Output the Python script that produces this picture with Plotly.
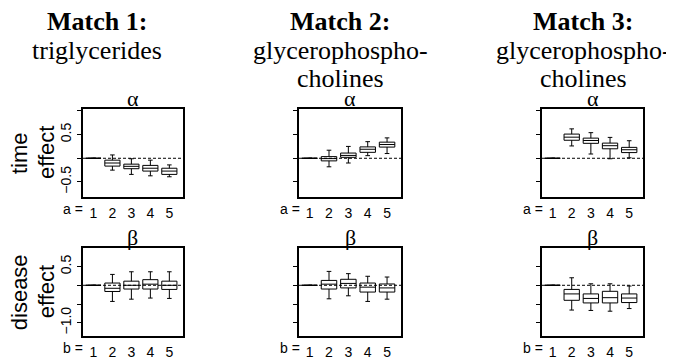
import plotly.graph_objects as go

categories = [1, 2, 3, 4, 5]
match_titles = ["Match 1:", "Match 2:", "Match 3:"]
match_names = [["triglycerides"], ["glycerophospho-", "cholines"], ["glycerophospho-", "cholines"]]
row_symbols = ["α", "β"]
row_labels = [["time", "effect"], ["disease", "effect"]]
row_prefix = ["a =", "b ="]
top_ticks = [-0.5, 0, 0.5, 1.0]
top_ticktext = ["−0.5", "", "0.5", ""]
bottom_ticks = [-1.0, -0.5, 0, 0.5]
bottom_ticktext = ["−1.0", "", "", "0.5"]

# time effect (alpha), match 1..3
time1_low = [0, -0.25, -0.34, -0.37, -0.39]
time1_q1 = [0, -0.165, -0.22, -0.27, -0.34]
time1_med = [0, -0.10, -0.17, -0.21, -0.27]
time1_q3 = [0, -0.04, -0.124, -0.15, -0.21]
time1_high = [0, 0.07, -0.01, -0.04, -0.14]

time2_low = [0, -0.18, -0.10, 0.055, 0.10]
time2_q1 = [0, -0.055, 0.02, 0.125, 0.236]
time2_med = [0, -0.007, 0.06, 0.19, 0.29]
time2_q3 = [0, 0.035, 0.11, 0.24, 0.34]
time2_high = [0, 0.17, 0.25, 0.35, 0.43]

time3_low = [0, 0.26, 0.09, -0.01, 0.01]
time3_q1 = [0, 0.38, 0.315, 0.20, 0.12]
time3_med = [0, 0.445, 0.375, 0.265, 0.18]
time3_q3 = [0, 0.51, 0.425, 0.32, 0.23]
time3_high = [0, 0.62, 0.54, 0.44, 0.37]

# disease effect (beta), match 1..3
dis1_low = [0, -0.43, -0.37, -0.34, -0.35]
dis1_q1 = [0, -0.165, -0.10, -0.10, -0.11]
dis1_med = [0, -0.08, 0.0, 0.03, 0.0]
dis1_q3 = [0, 0.06, 0.11, 0.15, 0.11]
dis1_high = [0, 0.29, 0.36, 0.36, 0.36]

dis2_low = [0, -0.36, -0.28, -0.43, -0.37]
dis2_q1 = [0, -0.10, -0.07, -0.18, -0.18]
dis2_med = [0, 0.03, 0.05, -0.05, -0.07]
dis2_q3 = [0, 0.13, 0.16, 0.06, 0.035]
dis2_high = [0, 0.37, 0.31, 0.24, 0.22]

dis3_low = [0, -0.66, -0.67, -0.69, -0.62]
dis3_q1 = [0, -0.40, -0.47, -0.47, -0.46]
dis3_med = [0, -0.23, -0.35, -0.33, -0.34]
dis3_q3 = [0, -0.11, -0.23, -0.16, -0.23]
dis3_high = [0, 0.20, 0.04, 0.04, -0.02]

panels = [
    (time1_low, time1_q1, time1_med, time1_q3, time1_high),
    (time2_low, time2_q1, time2_med, time2_q3, time2_high),
    (time3_low, time3_q1, time3_med, time3_q3, time3_high),
    (dis1_low, dis1_q1, dis1_med, dis1_q3, dis1_high),
    (dis2_low, dis2_q1, dis2_med, dis2_q3, dis2_high),
    (dis3_low, dis3_q1, dis3_med, dis3_q3, dis3_high),
]

# page body has an 8px margin; the figure is sized to fit the 674x360 window
OX, OY = 8, 8
W, H = 674 - OX, 360 - OY


def px(xp):
    return (xp - OX) / W


def py(yp):
    return 1 - (yp - OY) / H


col_px = [(83, 183), (299, 401), (542, 643)]
row_px = [(111, 201), (253, 343)]
row_ranges = [[-0.82, 1.04], [-1.36, 0.99]]
SANS = "Liberation Sans, Arial, sans-serif"
SERIF = "Liberation Serif, Times New Roman, serif"

fig = go.Figure()
layout = dict(width=W, height=H, margin=dict(l=0, r=0, t=0, b=0),
              paper_bgcolor="white", plot_bgcolor="white", showlegend=False)
shapes = []
annotations = []

for i, (low, q1, med, q3, high) in enumerate(panels):
    r, c = divmod(i, 3)
    n = i + 1
    xa = "x" if n == 1 else f"x{n}"
    ya = "y" if n == 1 else f"y{n}"
    fig.add_trace(go.Box(
        x=categories, lowerfence=low, q1=q1, median=med, q3=q3, upperfence=high,
        xaxis=xa, yaxis=ya, width=0.8, whiskerwidth=0.3,
        fillcolor="white", line=dict(color="black", width=1),
        boxpoints=False, hoverinfo="skip"))
    x0, x1 = col_px[c]
    y0, y1 = row_px[r]
    if r == 0:
        tv, tt = top_ticks, (top_ticktext if c == 0 else [""] * 4)
    else:
        tv, tt = bottom_ticks, (bottom_ticktext if c == 0 else [""] * 4)
    layout["xaxis" if n == 1 else f"xaxis{n}"] = dict(
        domain=[px(x0), px(x1)], anchor=ya, range=[0.45, 5.72],
        tickmode="array", tickvals=categories, ticktext=[str(v) for v in categories],
        ticks="", showgrid=False, zeroline=False, showline=True, mirror=True,
        linecolor="black", linewidth=2, ticklabelstandoff=2,
        tickfont=dict(family=SANS, size=14, color="black"))
    layout["yaxis" if n == 1 else f"yaxis{n}"] = dict(
        domain=[py(y1), py(y0)], anchor=xa, range=row_ranges[r],
        tickmode="array", tickvals=tv, ticktext=tt, tickangle=-90,
        ticks="outside", ticklen=4, tickwidth=1, tickcolor="black",
        showgrid=False, zeroline=False, showline=True, mirror=True,
        linecolor="black", linewidth=2,
        tickfont=dict(family=SANS, size=14, color="black"))
    shapes.append(dict(type="line", xref=f"{xa} domain", yref=ya, x0=0, x1=1, y0=0, y1=0,
                       line=dict(color="black", width=1, dash="3px,2px"), layer="above"))
    # Greek symbol above panel
    annotations.append(dict(text=row_symbols[r], xref="paper", yref="paper",
                            x=px((x0 + x1) / 2), y=py(y0 - 11),
                            xanchor="center", yanchor="middle", showarrow=False,
                            font=dict(family=SERIF, size=22, color="black")))
    # "a =" / "b =" prefix
    annotations.append(dict(text=row_prefix[r], xref=xa, yref="paper",
                            x=1, xshift=-20, y=py(y1 + 12),
                            xanchor="center", yanchor="middle", showarrow=False,
                            font=dict(family=SANS, size=14, color="black")))

# column titles
title_cx = [97, 340, 583]
for c in range(3):
    annotations.append(dict(text=f"<b>{match_titles[c]}</b>", xref="paper", yref="paper",
                            x=px(title_cx[c]), y=py(22), xanchor="center", yanchor="middle",
                            showarrow=False, font=dict(family=SERIF, size=26, color="black")))
    for k, line in enumerate(match_names[c]):
        annotations.append(dict(text=line, xref="paper", yref="paper",
                                x=px(title_cx[c]), y=py(51 + 29 * k),
                                xanchor="center", yanchor="middle", showarrow=False,
                                font=dict(family=SERIF, size=26, color="black")))

# row labels (rotated)
label_x = [19, 46]
for r in range(2):
    yc = (row_px[r][0] + row_px[r][1]) / 2
    for k, word in enumerate(row_labels[r]):
        annotations.append(dict(text=word, xref="paper", yref="paper",
                                x=px(label_x[k]), y=py(yc), textangle=-90,
                                xanchor="center", yanchor="middle", showarrow=False,
                                font=dict(family=SANS, size=22, color="black")))

layout["shapes"] = shapes
layout["annotations"] = annotations
fig.update_layout(**layout)
fig.write_html("out.html")
